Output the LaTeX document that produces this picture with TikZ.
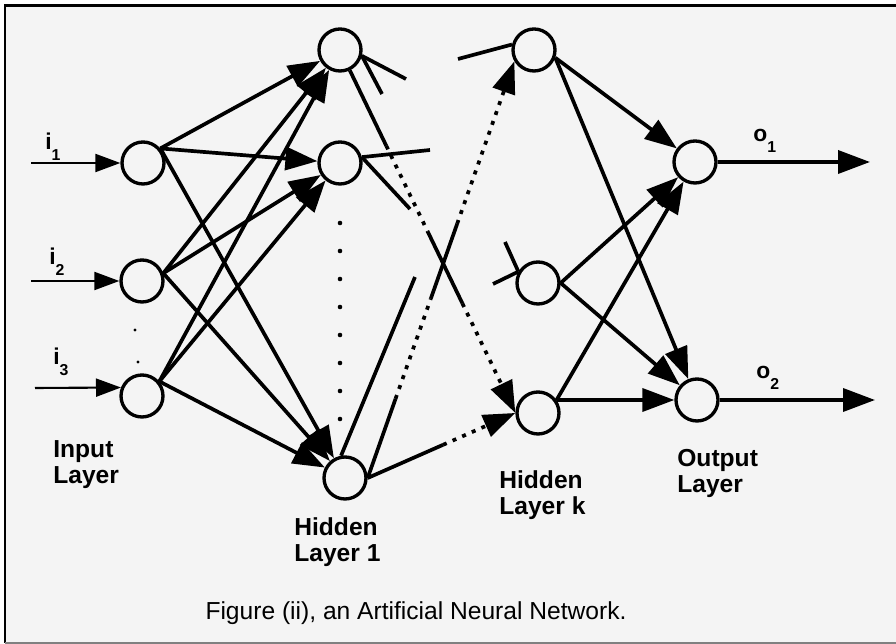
\documentclass[tikz,border=0pt]{standalone}
\usepackage{fontspec}
\setmainfont{Liberation Sans}
\usetikzlibrary{arrows.meta}
\definecolor{paper}{RGB}{244,244,244}
\newcommand{\idxlabel}[2]{#1\raisebox{-0.22cm}{\fontsize{9}{9}\selectfont #2}}

\begin{document}
\begin{tikzpicture}
        [%%%%%%%%%%%%%%%%%%%%%%%%%%%%%%
        x=0.02cm,y=-0.02cm,
        neuron/.style={circle,draw=black,line width=1.9pt,minimum size=0.84cm,inner sep=0pt},
        link/.style={line width=2.1pt},
        arr/.style={link,-{Triangle[length=0.64cm,width=0.46cm]}},
        inarr/.style={line width=1.2pt,-{Triangle[length=0.5cm,width=0.36cm]}},
        dotline/.style={link,dash pattern=on 0.08cm off 0.13cm},
        layer/.style={font=\fontsize{14}{15.3}\selectfont\bfseries,align=left,anchor=base west,inner sep=0pt},
        idx/.style={font=\fontsize{13}{13}\selectfont\bfseries,anchor=base west,inner sep=0pt},
        ]%%%%%%%%%%%%%%%%%%%%%%%%%%%%%%

        \useasboundingbox (0,0) rectangle (896,644);
        \fill[paper] (5,6) rectangle (896,643);
        \draw[line width=1.7pt] (5,643) -- (5,6) -- (896,6);
        \draw[gray,line width=0.6pt] (5,643) -- (896,643);

        % neurons
        \node[neuron] (I1) at (143,163) {};
        \node[neuron] (I2) at (142,281) {};
        \node[neuron] (I3) at (142,396) {};
        \node[neuron] (H1a) at (340,50) {};
        \node[neuron] (H1b) at (340,163) {};
        \node[neuron] (H1c) at (345,478) {};
        \node[neuron] (Hka) at (534,50) {};
        \node[neuron] (Hkb) at (538,283) {};
        \node[neuron] (Hkc) at (538,413) {};
        \node[neuron] (O1) at (695,162) {};
        \node[neuron] (O2) at (697,400) {};

        % inputs and outputs
        \coordinate (in1) at (31,163);
        \coordinate (in2) at (31,281);
        \coordinate (in3) at (35,388);
        \coordinate (out1) at (870,162);
        \coordinate (out2) at (875,400);
        \draw[inarr] (in1) -- (I1);
        \draw[inarr] (in2) -- (I2);
        \draw[inarr] (in3) -- (I3.158);
        \draw[arr] (O1) -- (out1);
        \draw[arr] (O2) -- (out2);

        \node[idx] (li1) at (45,150) {\idxlabel{i}{1}};
        \node[idx] (li2) at (49,265) {\idxlabel{i}{2}};
        \node[idx] (li3) at (53,365) {\idxlabel{i}{3}};
        \node[idx] (lo1) at (753,142) {\idxlabel{o}{1}};
        \node[idx] (lo2) at (756,379) {\idxlabel{o}{2}};

        \fill (135,330) circle (0.9pt);
        \fill (138,362) circle (0.9pt);
        \foreach \y in {223,251,...,419}
          \fill (340,\y) circle (1.3pt);

        % input layer to hidden layer 1
        \foreach \i/\a in {I1/40,I2/20,I3/40}{
          \foreach \h in {H1a,H1b,H1c}
          \draw[arr] (\i.\a) -- (\h);
        }

        % hidden layer k to output layer
        \foreach \k/\a in {Hka/-20,Hkb/0,Hkc/35}{
          \foreach \o in {O1,O2}
          \draw[arr] (\k.\a) -- (\o);
        }

        % loose ends
        \coordinate (s1) at (406,79);
        \coordinate (s2) at (382,94);
        \coordinate (s3) at (430,150);
        \coordinate (s4) at (410,209);
        \coordinate (s5) at (415,277);
        \coordinate (s6) at (458,59);
        \coordinate (s7) at (493,284);
        \coordinate (s8) at (505,242);
        \draw[link] (H1a.-15) -- (s1);
        \draw[link] (H1a.-15) -- (s2);
        \draw[link] (H1b.15) -- (s3);
        \draw[link] (H1b.15) -- (s4);
        \draw[link] (H1c.100) -- (s5);
        \draw[link] (s6) -- (Hka.166);
        \draw[link] (s7) -- (Hkb.150);
        \draw[link] (s8) -- (Hkb.150);

        % hidden layer 1 to hidden layer k
        \path (H1a) -- (Hkc.west) coordinate[pos=0.22] (a1) coordinate[pos=0.47] (a2) coordinate[pos=0.68] (a3);
        \draw[link] (H1a) -- (a1);
        \draw[dotline] (a1) -- (a2);
        \draw[link] (a2) -- (a3);
        \draw[dotline,arr] (a3) -- (Hkc.west);

        \path (H1c.east) -- (Hka.210) coordinate[pos=0.19] (b1) coordinate[pos=0.43] (b2) coordinate[pos=0.61] (b3);
        \draw[link] (H1c.east) -- (b1);
        \draw[dotline] (b1) -- (b2);
        \draw[link] (b2) -- (b3);
        \draw[dotline,arr] (b3) -- (Hka.210);

        \path (H1c.east) -- (Hkc.west) coordinate[pos=0.51] (c1);
        \draw[link] (H1c.east) -- (c1);
        \draw[dotline,arr] (c1) -- (Hkc.west);

        % layer names
        \node[layer] (lin) at (53,484) {Input\\Layer};
        \node[layer] (lh1) at (294,562) {Hidden\\Layer 1};
        \node[layer] (lhk) at (499,515) {Hidden\\Layer k};
        \node[layer] (lout) at (677,493) {Output\\Layer};

        \node[anchor=base,inner sep=0pt,font=\fontsize{14}{16}\selectfont] (cap) at (416,620) {Figure (ii), an Artificial Neural Network.};

      \end{tikzpicture}
\end{document}
